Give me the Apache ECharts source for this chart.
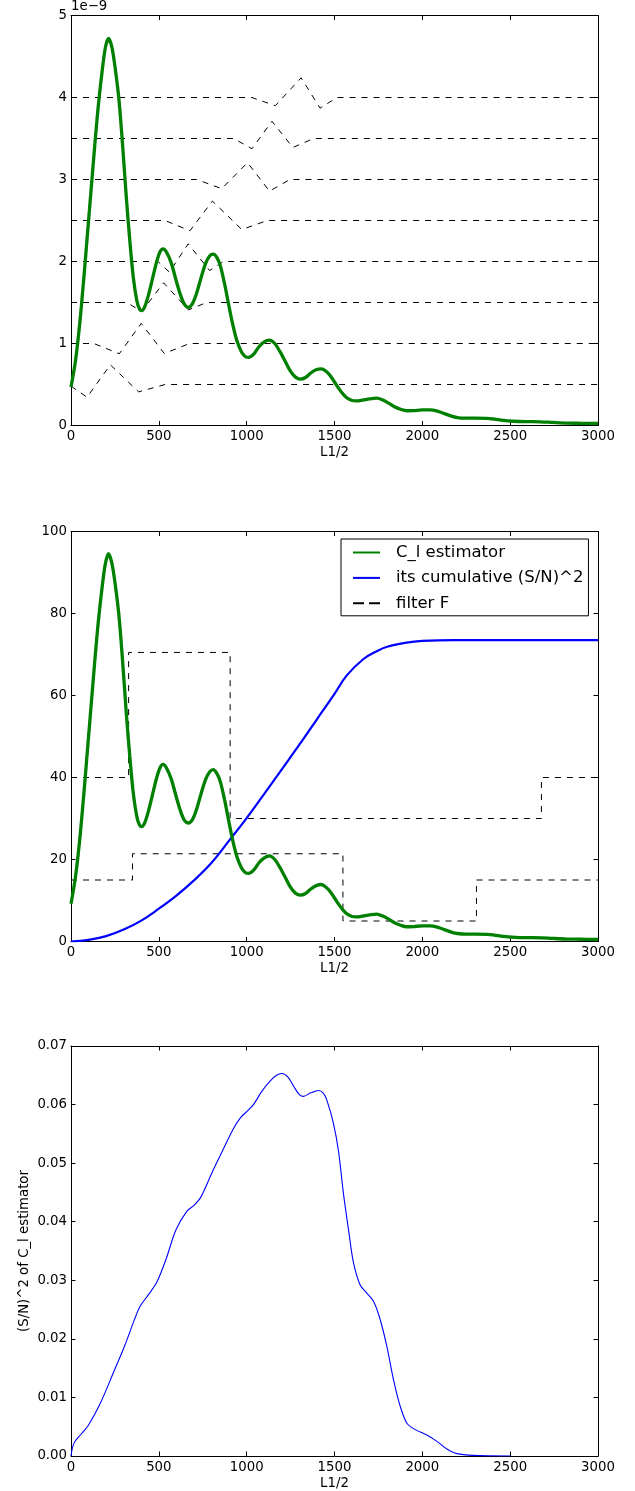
<!DOCTYPE html>
<html>
<head>
<meta charset="utf-8">
<script src="https://cdn.jsdelivr.net/npm/echarts@6/dist/echarts.min.js"></script>
<style>
  html, body { margin: 0; padding: 0; background: #ffffff; }
  #chart { width: 635px; height: 1491px; }
</style>
</head>
<body>
<div id="chart"></div>
<script>
// ---- multipole axis shared by all three panels ----
const ellMin = 0;
const ellMax = 3000;
const ellStep = 500;

// ---- top panel: C_l estimator (units of 1e-9) and the filter windows ----
const clEstimator = [
  [0, 0.47], [25, 0.78], [50, 1.25], [75, 1.85], [100, 2.50], [125, 3.15], [150, 3.78],
  [175, 4.28], [195, 4.60], [213, 4.72], [232, 4.62], [252, 4.35], [274, 3.95], [295, 3.38],
  [315, 2.78], [335, 2.25], [355, 1.80], [375, 1.52], [390, 1.42], [403, 1.40], [420, 1.45],
  [442, 1.60], [465, 1.80], [488, 2.00], [507, 2.12], [525, 2.155], [545, 2.11], [571, 1.98],
  [597, 1.78], [622, 1.60], [645, 1.48], [669, 1.44], [692, 1.49], [713, 1.60], [740, 1.80],
  [767, 1.98], [790, 2.07], [810, 2.09], [830, 2.05], [850, 1.95], [875, 1.72], [897, 1.48],
  [920, 1.24], [945, 1.03], [970, 0.90], [990, 0.845], [1011, 0.83], [1040, 0.87],
  [1070, 0.96], [1100, 1.02], [1130, 1.04], [1160, 1.00], [1190, 0.90], [1220, 0.78],
  [1250, 0.66], [1278, 0.59], [1305, 0.565], [1335, 0.585], [1365, 0.64], [1395, 0.68],
  [1425, 0.69], [1450, 0.665], [1475, 0.61], [1500, 0.53], [1525, 0.45], [1550, 0.38],
  [1575, 0.33], [1600, 0.305], [1625, 0.30], [1660, 0.31], [1700, 0.325], [1741, 0.333],
  [1775, 0.31], [1810, 0.27], [1845, 0.225], [1880, 0.195], [1912, 0.18], [1950, 0.182],
  [2000, 0.19], [2045, 0.19], [2085, 0.175], [2125, 0.145], [2165, 0.115], [2200, 0.097],
  [2234, 0.09], [2300, 0.09], [2367, 0.088], [2410, 0.078], [2460, 0.062], [2519, 0.052],
  [2590, 0.047], [2671, 0.045], [2740, 0.038], [2822, 0.03], [2900, 0.027], [3000, 0.025]
];

const filterWindow1 = [[0, 0.48], [91, 0.345], [224, 0.74], [385, 0.41], [536, 0.5], [3000, 0.5]];
const filterWindow2 = [[0, 1], [130, 1], [275, 0.875], [400, 1.245], [531, 0.878], [675, 1], [3000, 1]];
const filterWindow3 = [[0, 1.5], [317, 1.5], [403, 1.39], [527, 1.74], [669, 1.41], [772, 1.5], [3000, 1.5]];
const filterWindow4 = [[0, 2], [495, 2], [560, 1.87], [667, 2.215], [789, 1.89], [868, 2], [3000, 2]];
const filterWindow5 = [[0, 2.5], [535, 2.5], [677, 2.375], [805, 2.737], [972, 2.39], [1118, 2.5], [3000, 2.5]];
const filterWindow6 = [[0, 3], [716, 3], [858, 2.888], [1005, 3.205], [1130, 2.858], [1246, 3], [3000, 3]];
const filterWindow7 = [[0, 3.5], [926, 3.5], [1030, 3.375], [1144, 3.71], [1263, 3.39], [1381, 3.5], [3000, 3.5]];
const filterWindow8 = [[0, 4], [1030, 4], [1163, 3.9], [1310, 4.24], [1418, 3.87], [1514, 4], [3000, 4]];
const filterWindows = [filterWindow1, filterWindow2, filterWindow3, filterWindow4,
                       filterWindow5, filterWindow6, filterWindow7, filterWindow8];

// ---- middle panel: rescaled estimator, cumulative (S/N)^2, filter F ----
const clEstimatorScaled = [
  [0, 9.2], [25, 15.6], [50, 25.0], [75, 37.0], [100, 50.0], [125, 63.0], [150, 75.6],
  [175, 85.6], [195, 92.0], [213, 94.6], [232, 92.4], [252, 87.0], [274, 79.0], [295, 67.6],
  [315, 55.6], [335, 45.0], [355, 36.0], [375, 30.4], [390, 28.4], [403, 28.0], [420, 29.0],
  [442, 32.0], [465, 36.0], [488, 40.0], [507, 42.4], [525, 43.2], [545, 42.2], [571, 39.6],
  [597, 35.6], [622, 32.0], [645, 29.6], [669, 28.9], [692, 29.8], [713, 32.0], [740, 36.0],
  [767, 39.6], [790, 41.4], [810, 41.9], [830, 41.0], [850, 39.0], [875, 34.4], [897, 29.6],
  [920, 24.8], [945, 20.6], [970, 18.0], [990, 16.9], [1011, 16.6], [1040, 17.4],
  [1070, 19.2], [1100, 20.4], [1130, 20.9], [1160, 20.0], [1190, 18.0], [1220, 15.6],
  [1250, 13.2], [1278, 11.8], [1305, 11.3], [1335, 11.7], [1365, 12.8], [1395, 13.6],
  [1425, 13.9], [1450, 13.3], [1475, 12.2], [1500, 10.6], [1525, 9.0], [1550, 7.6],
  [1575, 6.6], [1600, 6.1], [1625, 6.0], [1660, 6.2], [1700, 6.5], [1740, 6.7],
  [1775, 6.2], [1810, 5.4], [1845, 4.5], [1880, 3.9], [1910, 3.6], [1950, 3.65],
  [2000, 3.8], [2045, 3.8], [2085, 3.5], [2125, 2.9], [2165, 2.3], [2200, 1.95],
  [2250, 1.8], [2300, 1.8], [2370, 1.76], [2410, 1.56], [2460, 1.24], [2530, 1.02],
  [2590, 0.95], [2680, 0.9], [2740, 0.76], [2822, 0.6], [2900, 0.55], [3000, 0.5]
];

const cumulativeSN2 = [
  [0, 0], [100, 0.4], [200, 1.3], [300, 2.9], [400, 5.1], [500, 8.0], [600, 11.2],
  [700, 14.9], [800, 19.2], [900, 24.6], [1000, 30.1], [1100, 36.0], [1200, 42.0],
  [1300, 48.0], [1400, 54.2], [1500, 60.4], [1570, 64.9], [1665, 68.9], [1740, 70.8],
  [1800, 71.9], [1910, 72.9], [2000, 73.3], [2180, 73.5], [3000, 73.5]
];

const filterFLow = [[0, 15], [350, 21.4], [1548, 5], [2308, 15], [3000, 15]];
const filterFHigh = [[0, 40], [328, 70.5], [906, 30], [2678, 40], [3000, 40]];

// ---- bottom panel: (S/N)^2 per multipole ----
const snDensity = [
  [0, 0], [10, 0.0016], [25, 0.0026], [60, 0.0038], [100, 0.0053], [167, 0.009],
  [241, 0.0142], [308, 0.019], [360, 0.0232], [394, 0.0256], [440, 0.0275], [489, 0.0297],
  [540, 0.0335], [597, 0.0386], [660, 0.0418], [700, 0.0428], [739, 0.0442], [800, 0.0482],
  [848, 0.0512], [925, 0.0559], [963, 0.0577], [1000, 0.0588], [1039, 0.0600],
  [1085, 0.0622], [1133, 0.0640], [1170, 0.0650], [1200, 0.0653], [1235, 0.0647],
  [1270, 0.0630], [1300, 0.0617], [1323, 0.0614], [1365, 0.0620], [1409, 0.0624],
  [1435, 0.0620], [1456, 0.0608], [1494, 0.0568], [1523, 0.0520], [1551, 0.0448],
  [1580, 0.0386], [1608, 0.0330], [1646, 0.0292], [1684, 0.0278], [1722, 0.0264],
  [1760, 0.0233], [1798, 0.0187], [1836, 0.0130], [1874, 0.0085], [1912, 0.0056],
  [1960, 0.0045], [2026, 0.0036], [2083, 0.0025], [2140, 0.0012], [2197, 0.0004],
  [2290, 0.0001], [2500, 0.0]
];

// ---- drawing ----
const FONT = 'DejaVu Sans';
const BLACK = '#000000';
const GREEN = '#008000';
const BLUE = '#0000ff';

// half-pixel tops keep the horizontal dashed levels on whole pixel rows
const panels = [
  { top: 15.5,   yMin: 0, yMax: 5,    yStep: 1,    yFmt: v => String(v) },
  { top: 531.5,  yMin: 0, yMax: 100,  yStep: 20,   yFmt: v => String(v) },
  { top: 1046,   yMin: 0, yMax: 0.07, yStep: 0.01, yFmt: v => v.toFixed(2) }
];
const PLOT_LEFT = 71;
const PLOT_WIDTH = 527;
const PLOT_HEIGHT = 410;

function labelStyle(extra) {
  return Object.assign({ color: BLACK, fontFamily: FONT, fontSize: 13.3 }, extra || {});
}
function frameLine() {
  return { show: true, onZero: false, lineStyle: { color: BLACK, width: 1 } };
}
function innerTicks() {
  return { show: true, inside: true, length: 4.5, lineStyle: { color: BLACK, width: 1 } };
}

const grids = [];
const xAxes = [];
const yAxes = [];
panels.forEach((p, i) => {
  grids.push({ left: PLOT_LEFT, top: p.top, width: PLOT_WIDTH, height: PLOT_HEIGHT,
               containLabel: false, outerBoundsMode: 'none' });
  xAxes.push({
    gridIndex: i, type: 'value', position: 'bottom', min: ellMin, max: ellMax, interval: ellStep,
    axisLine: frameLine(), axisTick: innerTicks(), splitLine: { show: false },
    axisLabel: labelStyle({ margin: 5, formatter: v => String(v) }),
    name: 'L1/2', nameLocation: 'middle', nameGap: 21, nameMoveOverlap: false,
    nameTextStyle: labelStyle()
  });
  xAxes.push({
    gridIndex: i, type: 'value', position: 'top', min: ellMin, max: ellMax, interval: ellStep,
    axisLine: frameLine(), axisTick: innerTicks(), splitLine: { show: false },
    axisLabel: { show: false }
  });
  const leftY = {
    gridIndex: i, type: 'value', position: 'left', min: p.yMin, max: p.yMax, interval: p.yStep,
    axisLine: frameLine(), axisTick: innerTicks(), splitLine: { show: false },
    axisLabel: labelStyle({ margin: 4, formatter: p.yFmt })
  };
  if (i === 2) {
    leftY.name = '(S/N)^2 of C_l estimator';
    leftY.nameLocation = 'middle';
    leftY.nameGap = 40;
    leftY.nameMoveOverlap = false;
    leftY.nameTextStyle = labelStyle();
  }
  yAxes.push(leftY);
  yAxes.push({
    gridIndex: i, type: 'value', position: 'right', min: p.yMin, max: p.yMax, interval: p.yStep,
    axisLine: frameLine(), axisTick: innerTicks(), splitLine: { show: false },
    axisLabel: { show: false }
  });
});

function lineSeries(name, panel, data, style, extra) {
  return Object.assign({
    name: name, type: 'line', xAxisIndex: panel * 2, yAxisIndex: panel * 2,
    data: data, symbol: 'none', showSymbol: false, silent: true, animation: false,
    lineStyle: style, itemStyle: { color: style.color }
  }, extra || {});
}
const dashStyle = { color: BLACK, width: 1, type: [6, 6] };

const series = [];
filterWindows.forEach((w, k) => {
  series.push(lineSeries('filter window ' + (k + 1), 0, w, dashStyle));
});
series.push(lineSeries('C_l estimator (top)', 0, clEstimator,
  { color: GREEN, width: 3.3 }, { smooth: 0.3 }));

series.push(lineSeries('filter F', 1, filterFHigh, dashStyle, { step: 'end' }));
series.push(lineSeries('filter F', 1, filterFLow, dashStyle, { step: 'end' }));
series.push(lineSeries('its cumulative (S/N)^2', 1, cumulativeSN2,
  { color: BLUE, width: 2.2 }, { smooth: 0.4 }));
series.push(lineSeries('C_l estimator', 1, clEstimatorScaled,
  { color: GREEN, width: 3.3 }, { smooth: 0.3 }));

series.push(lineSeries('(S/N)^2', 2, snDensity,
  { color: BLUE, width: 1.1 }, { smooth: 0.3 }));

const chart = echarts.init(document.getElementById('chart'), null, { renderer: 'canvas' });
chart.setOption({
  backgroundColor: '#ffffff',
  animation: false,
  grid: grids,
  xAxis: xAxes,
  yAxis: yAxes,
  // scale offset printed above the top panel's value axis
  graphic: [{
    type: 'text', x: 71, y: 7, silent: true,
    style: { text: '1e\u22129', fill: BLACK, font: '13.3px "DejaVu Sans"',
             align: 'left', verticalAlign: 'middle' }
  }],
  legend: {
    data: [
      { name: 'C_l estimator' },
      { name: 'its cumulative (S/N)^2' },
      { name: 'filter F', lineStyle: { type: [11, 5] } }
    ],
    orient: 'vertical',
    left: 341, top: 539,
    padding: [5, 5, 4, 11],
    itemWidth: 27, itemHeight: 16, itemGap: 8.4,
    backgroundColor: '#ffffff',
    borderColor: BLACK, borderWidth: 1, borderRadius: 0,
    itemStyle: { opacity: 0 },
    selectedMode: false,
    textStyle: { color: BLACK, fontFamily: FONT, fontSize: 16.5, lineHeight: 16, padding: [0, 0, 0, 11] }
  },
  series: series
});
</script>
</body>
</html>
